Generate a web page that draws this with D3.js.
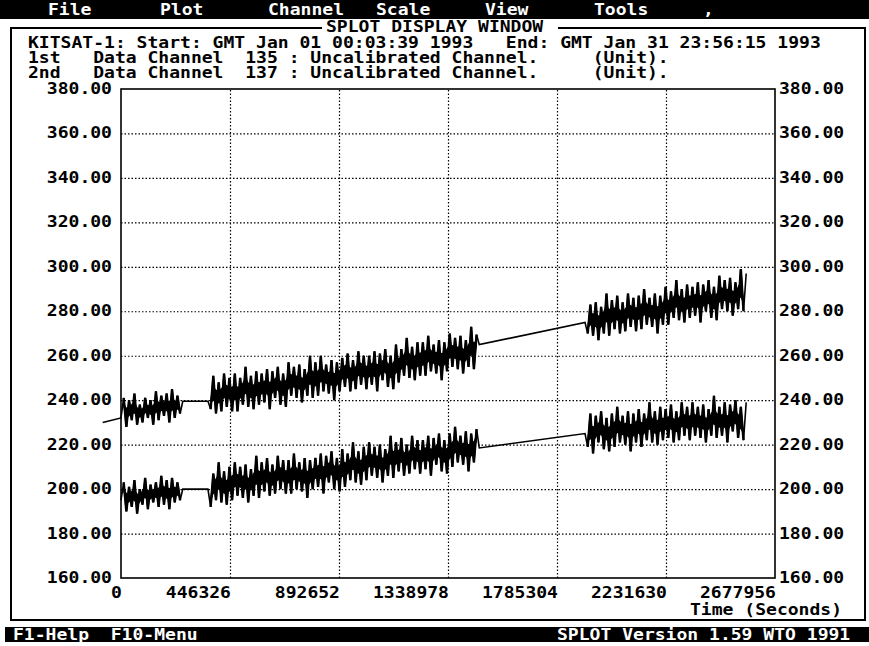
<!DOCTYPE html>
<html>
<head>
<meta charset="utf-8">
<script src="https://cdn.jsdelivr.net/npm/d3@7"></script>
<style>
  html, body { margin: 0; padding: 0; background: #fff; }
  svg { display: block; }
  text { font-family: "DejaVu Sans Mono", "Liberation Mono", monospace; font-weight: bold; white-space: pre; }
</style>
</head>
<body>
<svg id="chart" width="869" height="646"></svg>
<script>
// ---- tick labels ----
const xTickValues = [0, 446326, 892652, 1338978, 1785304, 2231630, 2677956];
const yTickValues = [160, 180, 200, 220, 240, 260, 280, 300, 320, 340, 360, 380];

// ---- menu / status text ----
const menuItems = ["File", "Plot", "Channel", "Scale", "View", "Tools", ","];
const headerLines = [
  "KITSAT-1: Start: GMT Jan 01 00:03:39 1993   End: GMT Jan 31 23:56:15 1993",
  "1st   Data Channel  135 : Uncalibrated Channel.     (Unit).",
  "2nd   Data Channel  137 : Uncalibrated Channel.     (Unit)."
];

// ---- telemetry samples (seconds from start, uncalibrated counts) ----
const sampleStep = 11000;                   // seconds between samples
const segmentStarts = [0, 356000, 1900000]; // start of each recorded pass block
const ch135LeadIn = { t: -75000, v: 230 };  // last sample of preceding file

const ch135SegA = [232, 241, 228, 240, 231, 243, 229, 238, 230, 241, 232, 240, 229, 244, 231, 242, 233, 243, 230, 245, 232, 242, 234, 239.5];
const ch135SegB = [
  239.5, 236, 251, 234, 248, 235, 252, 237, 250, 235,
  252, 235, 250, 238, 255, 237, 251, 236, 253, 238,
  252, 239, 254, 236, 253, 241, 255, 238, 252, 237,
  257, 242, 255, 241, 256, 239, 254, 242, 260, 241,
  257, 242, 260, 244, 256, 243, 258, 240, 257, 244,
  259, 246, 261, 244, 258, 245, 262, 247, 260, 245,
  260, 247, 262, 244, 261, 249, 263, 246, 260, 245,
  265, 248, 263, 251, 268, 250, 264, 249, 266, 251,
  266, 251, 269, 253, 265, 252, 267, 249, 266, 253,
  270, 255, 268, 254, 269, 252, 267, 255, 273, 254,
  269.5, 265
];
const ch135SegC = [
  275, 270, 283, 269, 284, 267, 282, 270, 288, 269,
  285, 272, 287, 270, 284, 271, 288, 273, 286, 271,
  287, 272, 290, 274, 286, 273, 288, 270, 287, 274,
  291, 274, 289, 277, 294, 276, 290, 275, 292, 277,
  291, 278, 293, 275, 292, 280, 294, 277, 291, 276,
  296, 281, 294, 280, 295, 278, 293, 281, 299, 280,
  297
];

const ch137SegA = [195, 203, 190, 201, 192, 204, 189, 200, 193, 205, 191, 202, 194, 203, 192, 206, 193, 204, 191, 205, 194, 203, 195, 200];
const ch137SegB = [
  200, 192, 207, 195, 212, 194, 208, 193, 210, 195,
  212, 197, 210, 196, 211, 194, 209, 197, 215, 196,
  212, 199, 214, 197, 211, 198, 215, 200, 213, 198,
  213, 198, 216, 200, 212, 199, 214, 196, 213, 200,
  214, 201, 216, 198, 215, 203, 217, 200, 214, 199,
  218, 201, 216, 204, 221, 203, 217, 202, 219, 204,
  221, 206, 219, 205, 220, 203, 218, 206, 224, 205,
  221, 208, 223, 206, 220, 207, 224, 209, 222, 207,
  222, 209, 224, 206, 223, 211, 225, 208, 222, 207,
  225, 210, 228, 212, 224, 211, 226, 208, 225, 212,
  227, 218.5
];
const ch137SegC = [
  225, 219, 234, 216, 233, 221, 235, 218, 232, 217,
  234, 219, 237, 221, 233, 220, 235, 217, 234, 221,
  236, 219, 234, 222, 239, 221, 235, 220, 237, 222,
  236, 223, 238, 221, 235, 222, 239, 224, 237, 222,
  239, 224, 237, 223, 238, 221, 236, 224, 242, 223,
  237, 224, 239, 221, 238, 226, 240, 223, 237, 222,
  239
];

// ---- layout ----
const CW = 10.86; // character cell width of the display font
const svg = d3.select("#chart");
const plot = { left: 121, right: 775, top: 89, bottom: 578 };

const x = d3.scaleLinear().domain([0, 2677956]).range([plot.left, plot.right]);
const y = d3.scaleLinear().domain([160, 380]).range([plot.bottom, plot.top]);

function mono(g, str, px, py, fill, size) {
  return g.append("text")
    .attr("x", px).attr("y", py)
    .attr("font-size", size || 15)
    .attr("fill", fill || "#000")
    .attr("textLength", str.length * CW)
    .attr("lengthAdjust", "spacingAndGlyphs")
    .text(str);
}

svg.append("rect").attr("width", 869).attr("height", 646).attr("fill", "#fff");

// menu bar
svg.append("rect").attr("x", 0).attr("y", 0).attr("width", 869).attr("height", 19).attr("fill", "#000");
const menuX = [48, 160, 268, 376, 485, 594, 703];
menuItems.forEach((m, i) => mono(svg, m, menuX[i], 15, "#fff"));

// window frame with title
const frame = svg.append("g").attr("stroke", "#000").attr("stroke-width", 2).attr("fill", "none");
frame.append("path").attr("d", "M322,28 H11 V620 H865 V28 H558");
mono(svg, "SPLOT DISPLAY WINDOW", 326, 32);

// header lines
headerLines.forEach((s, i) => mono(svg, s, 28, [48, 63, 78][i]));

// gridlines (dotted) from the axes
const gridY = svg.append("g")
  .attr("transform", `translate(${plot.left},0)`)
  .call(d3.axisLeft(y).tickValues(yTickValues.slice(1, -1)).tickSize(-(plot.right - plot.left)).tickFormat(""));
const gridX = svg.append("g")
  .attr("transform", `translate(0,${plot.bottom})`)
  .call(d3.axisBottom(x).tickValues(xTickValues.slice(1, -1)).tickSize(-(plot.bottom - plot.top)).tickFormat(""));
[gridY, gridX].forEach(g => {
  g.select(".domain").remove();
  g.selectAll(".tick line").attr("stroke", "#000").attr("stroke-width", 1.2).attr("stroke-dasharray", "1.5,2");
});

// plot box
svg.append("rect")
  .attr("x", plot.left).attr("y", plot.top)
  .attr("width", plot.right - plot.left).attr("height", plot.bottom - plot.top)
  .attr("fill", "none").attr("stroke", "#000").attr("stroke-width", 1.6);

// y labels, both sides
const fmtY = d => d.toFixed(2);
yTickValues.forEach(v => {
  const s = fmtY(v);
  mono(svg, s, 112 - s.length * CW, y(v) + 5);
  mono(svg, s, 779, y(v) + 5);
});

// x labels, right-aligned to their tick
xTickValues.forEach(v => {
  const s = String(v);
  mono(svg, s, x(v) + 1 - s.length * CW, 598);
});
mono(svg, "Time (Seconds)", 690, 615);

// series: thin trace through every sample (joins the gaps), heavy trace inside each block
const toPoints = (vals, s) => vals.map((v, i) => ({ t: segmentStarts[s] + i * sampleStep, v }));
const ch135Blocks = [ch135SegA, ch135SegB, ch135SegC].map(toPoints);
const ch137Blocks = [ch137SegA, ch137SegB, ch137SegC].map(toPoints);
const ch135 = [ch135LeadIn].concat(...ch135Blocks);
const ch137 = [].concat(...ch137Blocks);

const line = d3.line().x(d => x(d.t)).y(d => y(d.v));

// dense core of each block: the inner part of the band between the crest and trough chords
function coreOf(block) {
  const pts = block.slice(1, -1);
  return pts.map((p, i) => {
    const prev = pts[i - 1] || p, next = pts[i + 1] || p;
    const crest = (p.v >= prev.v && p.v >= next.v) ? p.v : (prev.v + next.v) / 2;
    const trough = (p.v <= prev.v && p.v <= next.v) ? p.v : (prev.v + next.v) / 2;
    const span = crest - trough;
    return { t: p.t, lo: trough + 0.3 * span, hi: crest - 0.3 * span };
  });
}
const coreArea = d3.area().x(d => x(d.t)).y0(d => y(d.lo)).y1(d => y(d.hi));

[ch135, ch137].forEach(data => {
  svg.append("path").datum(data).attr("d", line)
    .attr("fill", "none").attr("stroke", "#000").attr("stroke-width", 1.6);
});
ch135Blocks.concat(ch137Blocks).forEach(block => {
  svg.append("path").datum(coreOf(block)).attr("d", coreArea).attr("fill", "#000");
  svg.append("path").datum(block.slice(1, -1)).attr("d", line)
    .attr("fill", "none").attr("stroke", "#000").attr("stroke-width", 2.4)
    .attr("stroke-linejoin", "bevel");
});

// status bar
svg.append("rect").attr("x", 5).attr("y", 627).attr("width", 864).attr("height", 15).attr("fill", "#000");
mono(svg, "F1-Help  F10-Menu", 13, 640, "#fff");
mono(svg, "SPLOT Version 1.59 WTO 1991", 557, 640, "#fff");
</script>
</body>
</html>
